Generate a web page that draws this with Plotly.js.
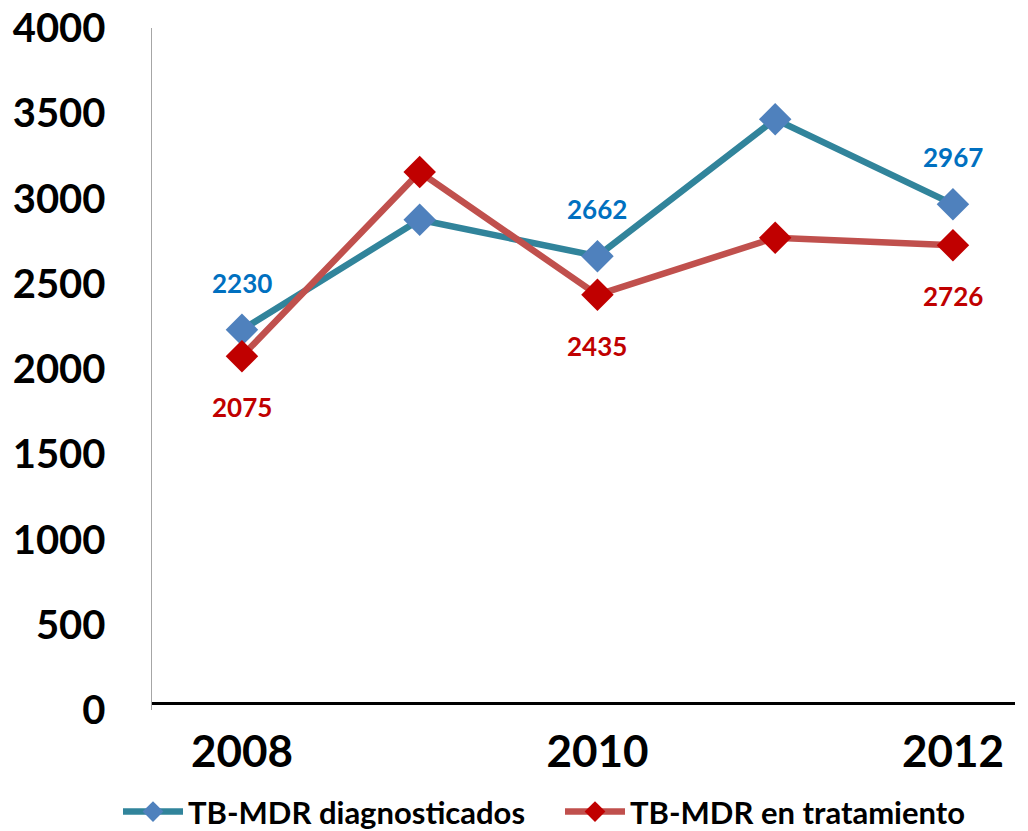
<!DOCTYPE html>
<html>
<head>
<meta charset="utf-8">
<script src="https://cdn.plot.ly/plotly-3.0.1.min.js"></script>
<style>
  html, body { margin: 0; padding: 0; background: #fff; }
  #chart { width: 1028px; height: 831px; }
</style>
</head>
<body>
<div id="chart"></div>
<script>
// ---- data ----
const years = [2008, 2009, 2010, 2011, 2012];
const diagnosticados = [2230, 2875, 2662, 3465, 2967];
const tratamiento = [2075, 3155, 2435, 2770, 2726];
const seriesNames = ['TB-MDR diagnosticados', 'TB-MDR en tratamiento'];
const yTickVals = [0, 500, 1000, 1500, 2000, 2500, 3000, 3500, 4000];
const xTickVals = [2008, 2010, 2012];
const labelledYears = [2008, 2010, 2012];

const FONT = 'Lato, "Open Sans", "DejaVu Sans", sans-serif';

const traces = [
  {
    x: years, y: diagnosticados, name: seriesNames[0],
    type: 'scatter', mode: 'lines+markers', legend: 'legend',
    line: { color: '#31849B', width: 6.5 },
    marker: { symbol: 'diamond', size: 25, color: '#4F81BD' },
    hoverinfo: 'x+y'
  },
  {
    x: years, y: tratamiento, name: seriesNames[1],
    type: 'scatter', mode: 'lines+markers', legend: 'legend2',
    line: { color: '#C0504D', width: 6.5 },
    marker: { symbol: 'diamond', size: 25, color: '#C00000' },
    hoverinfo: 'x+y'
  }
];

const annotations = [];
years.forEach((yr, i) => {
  if (labelledYears.indexOf(yr) === -1) return;
  annotations.push({
    x: yr, y: diagnosticados[i], xref: 'x', yref: 'y',
    text: String(diagnosticados[i]), showarrow: false,
    yanchor: 'middle', xanchor: 'center', yshift: 47,
    font: { family: FONT, size: 26, color: '#0070C0', weight: 700 }
  });
  annotations.push({
    x: yr, y: tratamiento[i], xref: 'x', yref: 'y',
    text: String(tratamiento[i]), showarrow: false,
    yanchor: 'middle', xanchor: 'center', yshift: -51,
    font: { family: FONT, size: 26, color: '#C00000', weight: 700 }
  });
});

const legendBase = {
  orientation: 'h',
  xref: 'container', yref: 'container',
  xanchor: 'left', y: 0.023, yanchor: 'middle',
  font: { family: FONT, size: 31, color: '#000000', weight: 700 },
  itemwidth: 60, tracegroupgap: 0, bgcolor: 'rgba(0,0,0,0)'
};

const layout = {
  width: 1028, height: 831,
  margin: { l: 152, r: 13, t: 28, b: 121, pad: 0, autoexpand: false },
  paper_bgcolor: '#ffffff', plot_bgcolor: '#ffffff',
  font: { family: FONT, color: '#000000' },
  showlegend: true,
  legend: Object.assign({}, legendBase, { x: 118 / 1028 }),
  legend2: Object.assign({}, legendBase, { x: 560 / 1028 }),
  xaxis: {
    type: 'linear', range: [2007.494, 2012.349],
    tickmode: 'array', tickvals: xTickVals, ticktext: xTickVals.map(String),
    showgrid: false, zeroline: false,
    showline: true, linecolor: '#000000', linewidth: 3.5,
    anchor: 'free', position: 0.0103,
    ticks: '', ticklabelstandoff: 9,
    tickfont: { family: FONT, size: 44, color: '#000000', weight: 700 },
    automargin: false, fixedrange: true
  },
  yaxis: {
    range: [0, 4000],
    tickmode: 'array', tickvals: yTickVals, ticktext: yTickVals.map(String),
    showgrid: false, zeroline: false,
    showline: true, linecolor: '#A6A6A6', linewidth: 1.5,
    ticks: '', ticklabelstandoff: 37,
    tickfont: { family: FONT, size: 40, color: '#000000', weight: 700 },
    automargin: false, fixedrange: true
  },
  annotations: annotations
};

Plotly.newPlot('chart', traces, layout, { displayModeBar: false, staticPlot: true });
</script>
</body>
</html>
